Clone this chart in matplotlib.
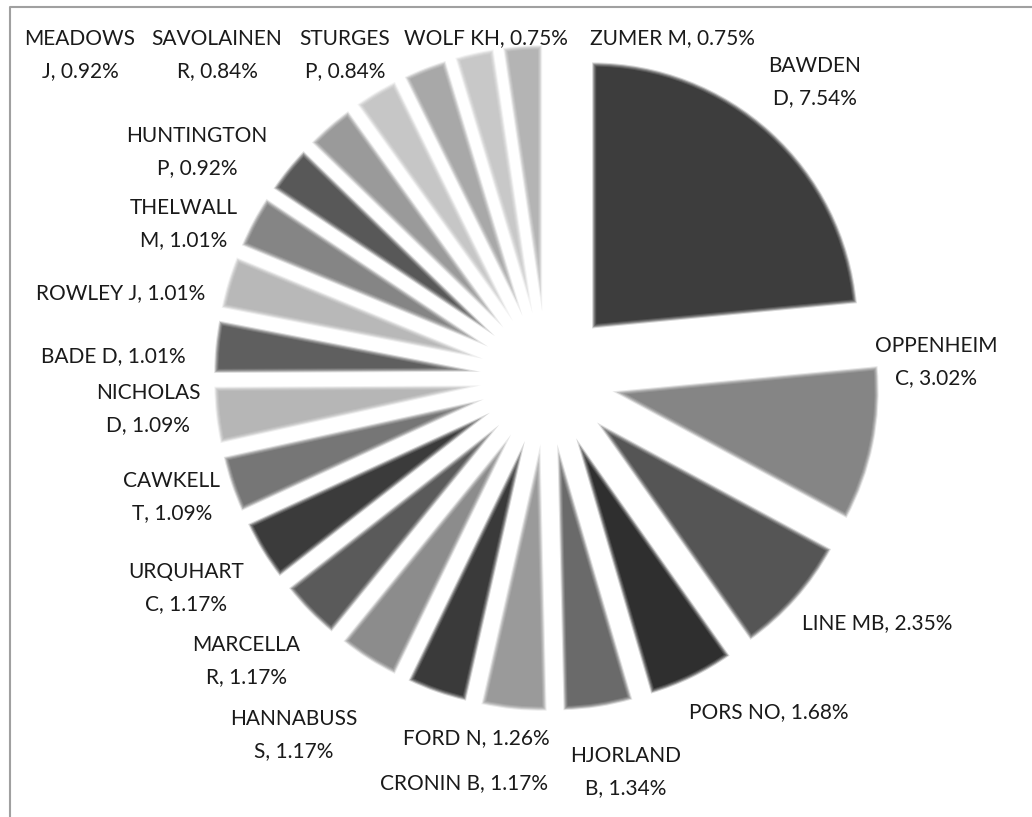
import matplotlib.pyplot as plt

# share of publications per author (%), clockwise from 12 o'clock
authors = ["BAWDEN D", "OPPENHEIM C", "LINE MB", "PORS NO", "HJORLAND B",
           "FORD N", "CRONIN B", "HANNABUSS S", "MARCELLA R", "URQUHART C",
           "CAWKELL T", "NICHOLAS D", "BADE D", "ROWLEY J", "THELWALL M",
           "HUNTINGTON P", "MEADOWS J", "SAVOLAINEN R", "STURGES P",
           "WOLF KH", "ZUMER M"]
shares = [7.54, 3.02, 2.35, 1.68, 1.34,
          1.26, 1.17, 1.17, 1.17, 1.17,
          1.09, 1.09, 1.01, 1.01, 1.01,
          0.92, 0.92, 0.84, 0.84,
          0.75, 0.75]
# labels that stay on one line in the original
one_line = {"LINE MB", "PORS NO", "FORD N", "CRONIN B", "BADE D",
            "ROWLEY J", "WOLF KH", "ZUMER M"}

# grey fills, same order as authors
greys = ["#3d3d3d", "#858585", "#555555", "#2f2f2f", "#6a6a6a",
         "#9a9a9a", "#3a3a3a", "#8c8c8c", "#5a5a5a", "#3b3b3b",
         "#767676", "#b6b6b6", "#5f5f5f", "#b8b8b8", "#858585",
         "#585858", "#9a9a9a", "#c6c6c6", "#a8a8a8", "#c8c8c8", "#b4b4b4"]

# label centres in pixels (x from left, y from top), same order as authors
label_xy = [(815, 82), (936, 362), (877, 623), (769, 712), (626, 772),
            (476, 738), (464, 783), (294, 735), (246, 661), (186, 588),
            (172, 497), (148, 409), (113, 356), (121, 293), (184, 224),
            (197, 152), (80, 55), (217, 55), (345, 55),
            (486, 38), (672, 38)]

W, H = 1032, 817
CX, CY = 547, H - 378
R = 266
OFF = 67


def make_label(name, pct):
    if name in one_line:
        return f"{name}, {pct:.2f}%"
    first, last = name.rsplit(" ", 1)
    return f"{first}\n{last}, {pct:.2f}%"


def main():
    fig = plt.figure(figsize=(W / 100, H / 100), dpi=100)
    ax = fig.add_axes([0, 0, 1, 1])
    n = len(shares)

    ax.pie(shares, colors=greys, startangle=90, counterclock=False,
           radius=R, center=(CX, CY), explode=[OFF] * n, frame=True,
           wedgeprops=dict(linewidth=0))

    # soft white edges (Excel "soft edges" look); narrow tips fade out
    for lw, a in [(6, 0.12), (4.5, 0.18), (3, 0.3), (1.5, 0.6)]:
        ax.pie(shares, colors=["none"] * n, startangle=90, counterclock=False,
               radius=R, center=(CX, CY), explode=[OFF] * n, frame=True,
               wedgeprops=dict(linewidth=lw, edgecolor="white", alpha=a))

    for name, pct, (px, py) in zip(authors, shares, label_xy):
        ax.text(px, H - py, make_label(name, pct), ha="center", va="center",
                fontsize=15, family="Lato", linespacing=1.7, color="#1a1a1a")

    # chart area border (top and left edges visible)
    ax.plot([10, 10, W], [0, H - 7, H - 7], color="#a0a0a0", lw=1.5,
            clip_on=False)

    ax.set_xlim(0, W)
    ax.set_ylim(0, H)
    ax.set_aspect("equal")
    ax.axis("off")
    fig.savefig("out.png", dpi=100)


if __name__ == "__main__":
    main()
